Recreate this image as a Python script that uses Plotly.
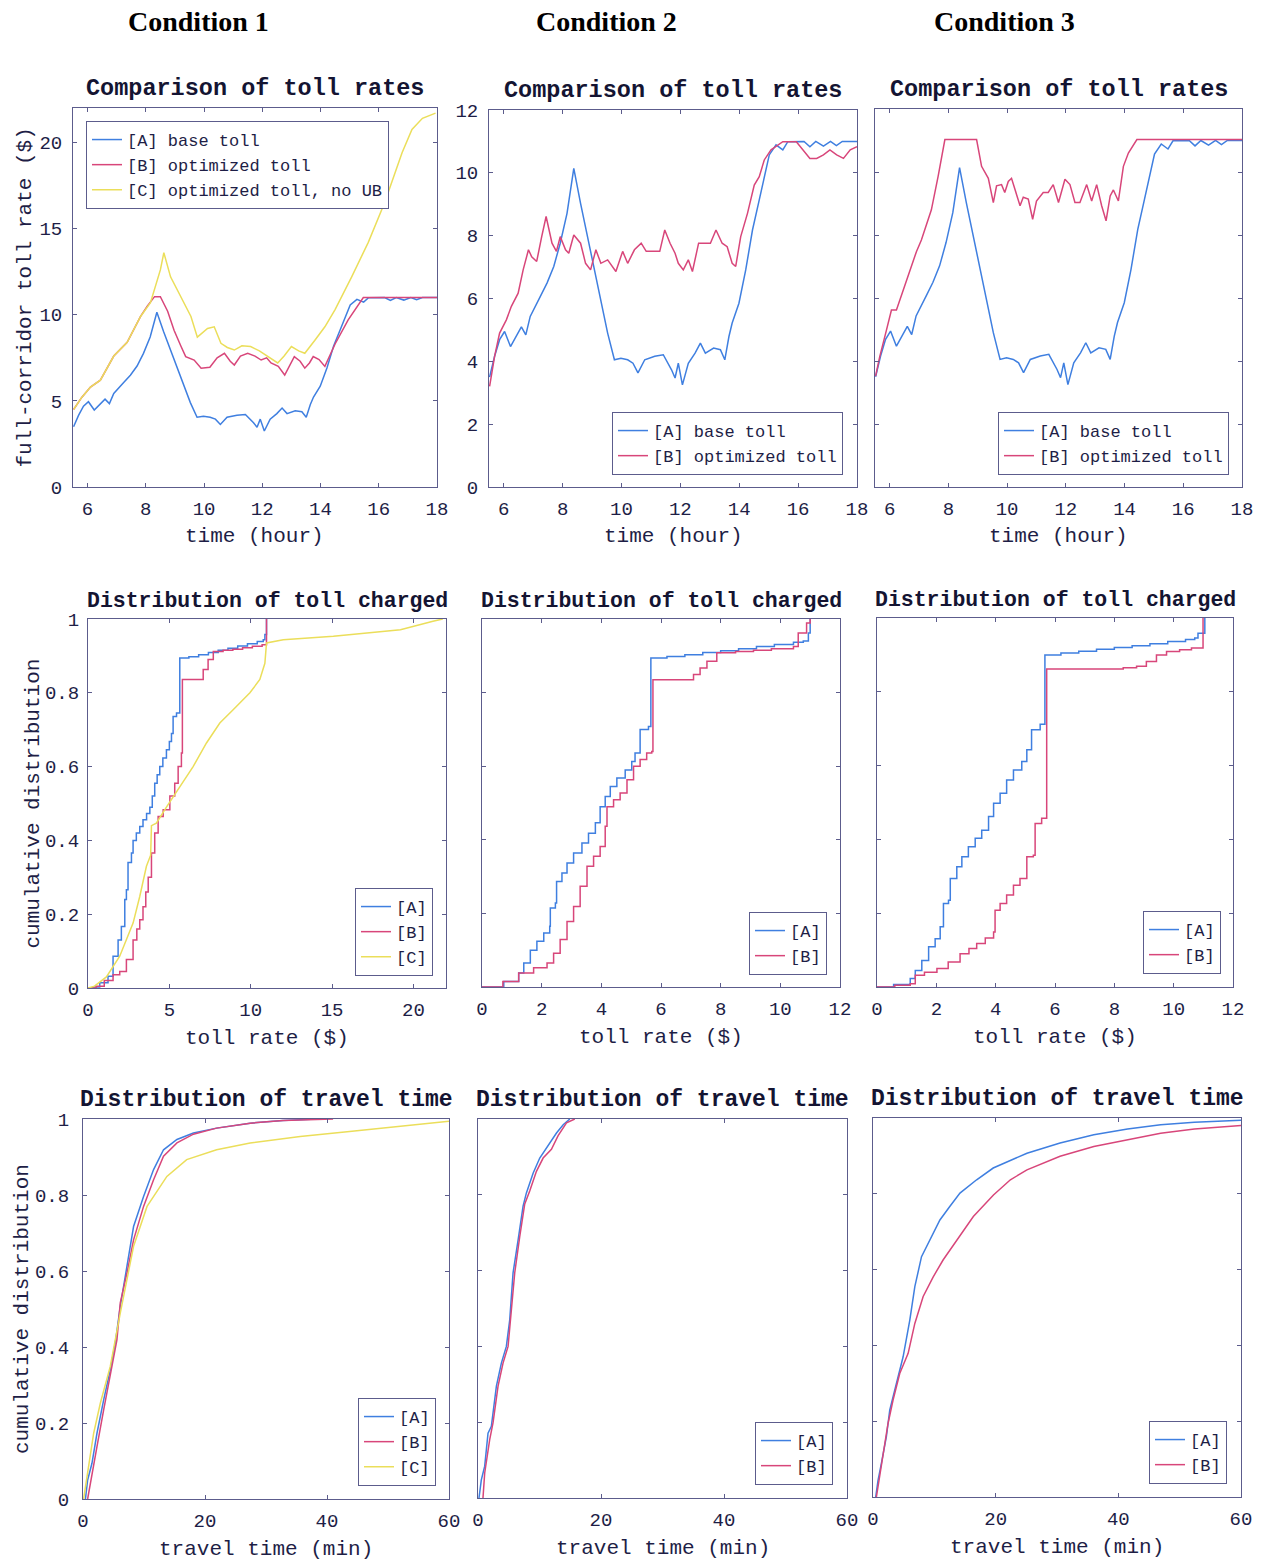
import plotly.graph_objects as go

W, H = 1262, 1561

MONO = "Liberation Mono"
SERIF = "Liberation Serif"
TXT = "#1e1e46"
FRAME = "#5c5c8c"
BLUE = "#3f7fe0"
RED = "#d8467a"
YELLOW = "#ebde5a"

# ---------------- toll rates over the day (hour, $) ----------------
# base toll [A] is shared by all three conditions
TIME_A = [5.52, 5.69, 5.86, 6.03, 6.23, 6.43, 6.6, 6.75, 6.9, 7.24, 7.47, 7.7, 7.92, 8.15,
          8.38, 8.61, 8.84, 9.07, 9.3, 9.53, 9.76, 9.98, 10.21, 10.39, 10.56, 10.79, 11.13,
          11.42, 11.7, 11.82, 11.93, 12.07, 12.27, 12.5, 12.68, 12.85, 13.13, 13.36, 13.51,
          13.65, 13.76, 13.99, 14.22, 14.45, 14.68, 14.85, 15.02, 15.25, 15.48, 15.65, 16.0,
          16.2, 16.4, 16.6, 16.86, 17.1, 17.3, 17.5, 18.0]
TOLL_A = [3.5, 4.16, 4.69, 4.95, 4.47, 4.79, 5.1, 4.84, 5.43, 6.06, 6.49, 7.02, 7.76, 8.71,
          10.14, 9.03, 7.97, 6.91, 5.85, 4.9, 4.05, 4.1, 4.05, 3.94, 3.63, 4.05, 4.16,
          4.21, 3.73, 3.47, 3.94, 3.25, 3.94, 4.26, 4.58, 4.26, 4.42, 4.37, 4.05,
          4.79, 5.22, 5.85, 6.91, 8.18, 9.14, 9.83, 10.57, 10.89, 10.73, 10.99, 11.0,
          11.0, 10.83, 11.0, 10.85, 11.0, 10.87, 11.0, 11.0]

# condition 1: optimized toll [B] and optimized toll without upper bound [C]
TIME_B1 = [5.52, 5.8, 6.1, 6.44, 6.9, 7.36, 7.82, 8.05, 8.3, 8.5, 8.75, 8.97, 9.2, 9.37, 9.66,
           9.9, 10.2, 10.45, 10.7, 10.9, 11.04, 11.25, 11.5, 11.75, 11.96, 12.15, 12.3, 12.55,
           12.77, 12.95, 13.1, 13.3, 13.46, 13.62, 13.75, 13.95, 14.15, 14.5, 14.95, 15.47,
           16.0, 16.5, 17.0, 17.5, 18.0]
TOLL_B1 = [4.5, 5.2, 5.8, 6.2, 7.6, 8.4, 9.9, 10.5, 11.05, 11.05, 10.2, 9.1, 8.2, 7.57, 7.37,
           6.9, 6.95, 7.5, 7.76, 7.3, 7.08, 7.6, 7.76, 7.6, 7.37, 7.5, 7.2, 7.0,
           6.5, 7.1, 7.57, 7.3, 6.9, 7.2, 7.57, 7.4, 7.0, 8.3, 9.7, 11.0,
           11.0, 11.0, 11.0, 11.0, 11.0]
TIME_C1 = [5.52, 5.8, 6.1, 6.44, 6.9, 7.36, 7.82, 8.16, 8.5, 8.62, 8.85, 9.2, 9.55, 9.77, 10.12,
           10.35, 10.58, 10.8, 11.04, 11.3, 11.6, 11.9, 12.2, 12.53, 12.75, 13.0, 13.25, 13.46,
           13.8, 14.15, 14.5, 15.07, 15.64, 16.2, 16.8, 17.14, 17.5, 17.95]
TOLL_C1 = [4.5, 5.2, 5.8, 6.2, 7.6, 8.4, 9.9, 10.7, 12.6, 13.6, 12.2, 11.05, 9.9, 8.7, 9.2,
           9.3, 8.34, 8.1, 7.95, 8.2, 8.15, 7.9, 7.57, 7.2, 7.6, 8.15, 7.9, 7.76,
           8.5, 9.3, 10.3, 12.2, 14.2, 16.5, 19.4, 20.76, 21.4, 21.7]

# condition 2: optimized toll [B]
TIME_B2 = [5.52, 5.69, 5.86, 6.09, 6.26, 6.49, 6.66, 6.84, 6.95, 7.12, 7.29, 7.44, 7.64, 7.79,
           7.92, 8.1, 8.21, 8.38, 8.61, 8.78, 8.95, 9.13, 9.3, 9.53, 9.81, 10.04, 10.21, 10.44,
           10.67, 10.84, 11.07, 11.3, 11.47, 11.65, 11.82, 11.93, 12.1, 12.27, 12.41, 12.62,
           12.85, 13.02, 13.21, 13.42, 13.59, 13.76, 13.88, 14.05, 14.28, 14.51, 14.68, 14.85,
           15.08, 15.25, 15.48, 15.94, 16.17, 16.4, 16.63, 16.86, 17.08, 17.31, 17.54, 17.77, 18.0]
TOLL_B2 = [3.2, 4.16, 4.9, 5.32, 5.75, 6.17, 6.91, 7.55, 7.33, 7.18, 7.97, 8.61, 7.76, 7.5,
           7.97, 7.55, 7.44, 8.02, 7.76, 7.12, 6.91, 7.55, 7.12, 7.23, 6.86, 7.5, 7.12, 7.55,
           7.76, 7.5, 7.5, 7.5, 8.18, 7.76, 7.44, 7.12, 6.91, 7.23, 6.86, 7.76,
           7.76, 7.76, 8.18, 7.76, 7.65, 7.12, 7.02, 7.97, 8.71, 9.61, 9.88, 10.41,
           10.73, 10.83, 10.99, 10.99, 10.73, 10.46, 10.46, 10.57, 10.73, 10.57, 10.46, 10.73, 10.83]

# condition 3: optimized toll [B]
TIME_B3 = [5.52, 5.66, 5.89, 6.06, 6.23, 6.46, 6.68, 6.91, 7.08, 7.25, 7.42, 7.65, 7.88, 8.96,
           9.13, 9.36, 9.53, 9.64, 9.81, 9.92, 10.04, 10.15, 10.32, 10.44, 10.55, 10.72, 10.87,
           11.0, 11.23, 11.4, 11.57, 11.75, 11.97, 12.14, 12.31, 12.48, 12.71, 12.88, 13.05,
           13.22, 13.37, 13.51, 13.62, 13.79, 13.96, 14.13, 14.42, 18.0]
TOLL_B3 = [3.52, 4.13, 4.98, 5.62, 5.62, 6.25, 6.78, 7.47, 7.84, 8.32, 8.8, 9.86, 11.03, 11.03,
           10.18, 9.8, 9.03, 9.56, 9.6, 9.35, 9.7, 9.8, 9.24, 8.93, 9.2, 9.14, 8.5,
           9.08, 9.35, 9.35, 9.6, 9.03, 9.77, 9.6, 9.03, 9.03, 9.6, 9.08, 9.6,
           8.93, 8.45, 9.24, 9.43, 9.08, 10.18, 10.6, 11.03, 11.03]

# ---------------- cumulative distribution of toll charged ($) ----------------
CH1_A_X = [0, 0.3, 0.72, 1.23, 1.54, 1.85, 2.05, 2.26, 2.36, 2.46, 2.67, 2.77, 2.97, 3.18, 3.38,
           3.6, 3.8, 3.95, 4.1, 4.25, 4.41, 4.6, 4.82, 5.0, 5.13, 5.23, 5.44, 5.64, 6.2, 6.8,
           7.4, 8.0, 8.6, 9.2, 9.8, 10.4, 10.77, 10.87, 10.97]
CH1_A_Y = [0, 0.003, 0.014, 0.032, 0.086, 0.13, 0.167, 0.24, 0.266, 0.34, 0.366, 0.40, 0.42,
           0.438, 0.456, 0.473, 0.49, 0.52, 0.555, 0.578, 0.60, 0.623, 0.646, 0.668, 0.69,
           0.736, 0.745, 0.894, 0.898, 0.903, 0.909, 0.915, 0.921, 0.927, 0.933, 0.939,
           0.944, 0.958, 1.0]
CH1_B_X = [0, 0.5, 1.0, 1.54, 1.95, 2.36, 2.77, 3.0, 3.18, 3.38, 3.55, 3.7, 3.9, 4.1, 4.31,
           4.62, 5.03, 5.33, 5.54, 5.74, 5.8, 6.87, 7.08, 7.38, 7.7, 8.3, 8.9, 9.5, 10.1, 10.7,
           10.97]
CH1_B_Y = [0, 0.005, 0.02, 0.036, 0.045, 0.077, 0.13, 0.16, 0.185, 0.22, 0.26, 0.30, 0.366,
           0.42, 0.465, 0.483, 0.52, 0.555, 0.60, 0.637, 0.836, 0.836, 0.863, 0.89, 0.912,
           0.915, 0.918, 0.922, 0.926, 0.93, 1.0]
CH1_C_X = [0, 0.4, 1.13, 1.95, 2.77, 3.18, 3.59, 3.85, 3.9, 4.2, 4.82, 5.64, 6.46, 7.28, 8.1,
           8.92, 9.95, 10.56, 10.87, 10.97, 12.0, 15.08, 17.1, 19.2, 21.2, 21.8]
CH1_C_Y = [0, 0.005, 0.03, 0.086, 0.176, 0.248, 0.33, 0.36, 0.44, 0.447, 0.49, 0.546, 0.60,
           0.664, 0.718, 0.754, 0.80, 0.836, 0.88, 0.935, 0.944, 0.953, 0.962, 0.971, 0.994, 1.0]

CH2_A_X = [0, 0.17, 0.73, 1.23, 1.4, 1.62, 1.84, 2.07, 2.27, 2.29, 2.46, 2.5, 2.68, 2.85, 3.07,
           3.35, 3.57, 3.8, 3.96, 4.13, 4.3, 4.52, 4.8, 5.02, 5.13, 5.3, 5.58, 5.66, 6.2, 6.8,
           7.4, 8.0, 8.6, 9.2, 9.8, 10.44, 10.77, 10.94, 11.0]
CH2_A_Y = [0, 0.0, 0.015, 0.038, 0.065, 0.10, 0.124, 0.147, 0.165, 0.215, 0.228, 0.287, 0.31,
           0.337, 0.364, 0.391, 0.418, 0.446, 0.49, 0.518, 0.545, 0.568, 0.59, 0.613, 0.636,
           0.70, 0.708, 0.894, 0.898, 0.903, 0.909, 0.914, 0.919, 0.925, 0.931, 0.937, 0.94,
           0.962, 1.0]
CH2_B_X = [0, 0.17, 0.7, 1.23, 1.73, 2.18, 2.4, 2.62, 2.85, 3.07, 3.29, 3.52, 3.74, 3.96, 4.13,
           4.19, 4.41, 4.63, 4.86, 5.08, 5.3, 5.52, 5.69, 5.73, 6.75, 7.09, 7.31, 7.54, 7.87,
           8.5, 9.1, 9.7, 10.44, 10.6, 10.88, 11.0]
CH2_B_Y = [0, 0.0, 0.015, 0.038, 0.052, 0.065, 0.092, 0.129, 0.178, 0.219, 0.274, 0.328, 0.355,
           0.382, 0.437, 0.49, 0.509, 0.527, 0.563, 0.60, 0.618, 0.636, 0.64, 0.835, 0.835,
           0.849, 0.867, 0.885, 0.908, 0.912, 0.915, 0.919, 0.925, 0.962, 0.989, 1.0]

CH3_A_X = [0, 0.11, 0.56, 1.12, 1.29, 1.51, 1.74, 1.96, 2.13, 2.24, 2.41, 2.47, 2.69, 2.86, 3.08,
           3.31, 3.53, 3.76, 3.93, 4.15, 4.37, 4.6, 4.88, 5.05, 5.21, 5.5, 5.66, 6.2, 6.8, 7.4,
           8.0, 8.6, 9.2, 9.8, 10.4, 10.71, 10.82, 11.05]
CH3_A_Y = [0, 0.0, 0.007, 0.023, 0.045, 0.072, 0.109, 0.131, 0.163, 0.226, 0.235, 0.294, 0.326,
           0.353, 0.38, 0.403, 0.425, 0.462, 0.498, 0.525, 0.561, 0.588, 0.611, 0.643, 0.697,
           0.712, 0.90, 0.905, 0.91, 0.915, 0.92, 0.925, 0.93, 0.936, 0.942, 0.946, 0.959, 1.0]
CH3_B_X = [0, 0.11, 0.6, 1.12, 1.29, 1.6, 2.02, 2.4, 2.8, 3.1, 3.36, 3.65, 3.93, 3.98, 4.15,
           4.37, 4.6, 4.82, 5.05, 5.27, 5.33, 5.55, 5.72, 8.3, 8.75, 9.08, 9.42, 9.76, 10.2,
           10.6, 10.99]
CH3_B_Y = [0, 0.0, 0.005, 0.009, 0.032, 0.04, 0.05, 0.068, 0.09, 0.104, 0.118, 0.133, 0.149,
           0.208, 0.226, 0.249, 0.276, 0.294, 0.353, 0.357, 0.443, 0.457, 0.862, 0.865, 0.869,
           0.882, 0.90, 0.909, 0.914, 0.919, 1.0]

# ---------------- cumulative distribution of travel time (min) ----------------
TT1_A_X = [0.4, 0.76, 1.47, 2.29, 3.38, 4.47, 5.29, 6.11, 7.2, 8.29, 9.93, 11.57, 13.2, 15.4,
           18.1, 21.9, 27.4, 32.8, 38.3]
TT1_A_Y = [0, 0.05, 0.094, 0.173, 0.26, 0.34, 0.41, 0.507, 0.612, 0.717, 0.796, 0.867, 0.919,
           0.946, 0.963, 0.976, 0.989, 0.996, 1.0]
TT1_B_X = [0.76, 1.47, 2.29, 3.38, 4.75, 5.56, 6.11, 7.2, 8.29, 9.93, 11.57, 13.2, 15.4, 18.1,
           21.9, 27.4, 32.8, 41.0]
TT1_B_Y = [0, 0.068, 0.138, 0.234, 0.349, 0.419, 0.516, 0.594, 0.682, 0.77, 0.84, 0.902, 0.937,
           0.96, 0.976, 0.989, 0.996, 1.0]
TT1_C_X = [0.1, 0.4, 0.93, 1.75, 2.84, 4.47, 6.11, 8.29, 10.5, 13.75, 17.0, 21.9, 27.4, 35.6,
           43.7, 51.9, 60.0]
TT1_C_Y = [0, 0.03, 0.085, 0.173, 0.252, 0.349, 0.489, 0.665, 0.77, 0.849, 0.893, 0.919, 0.937,
           0.954, 0.967, 0.98, 0.994]

TT2_A_X = [0.16, 0.54, 1.09, 1.63, 2.17, 2.99, 3.8, 4.61, 5.16, 5.7, 6.51, 7.33, 7.87, 8.96,
           10.04, 11.67, 12.76, 13.85, 14.93]
TT2_A_Y = [0, 0.048, 0.084, 0.171, 0.189, 0.295, 0.356, 0.4, 0.47, 0.594, 0.68, 0.77, 0.805,
           0.857, 0.897, 0.937, 0.963, 0.985, 1.0]
TT2_B_X = [0.81, 1.09, 1.9, 2.44, 3.26, 4.07, 4.89, 5.43, 5.97, 6.79, 7.6, 8.41, 9.5, 10.59,
           11.94, 13.03, 14.39, 15.74]
TT2_B_Y = [0, 0.066, 0.154, 0.198, 0.295, 0.356, 0.4, 0.488, 0.594, 0.69, 0.776, 0.81, 0.862,
           0.897, 0.92, 0.956, 0.99, 1.0]

TT3_A_X = [0.44, 0.82, 1.36, 2.18, 2.73, 3.82, 4.91, 6.0, 6.82, 7.91, 9.27, 10.91, 12.55, 14.18,
           16.9, 19.6, 25.1, 30.5, 36.0, 41.5, 46.9, 52.4, 60.0]
TT3_A_Y = [0, 0.044, 0.088, 0.159, 0.229, 0.3, 0.37, 0.467, 0.555, 0.634, 0.678, 0.731, 0.767,
           0.802, 0.837, 0.868, 0.907, 0.934, 0.956, 0.971, 0.982, 0.989, 0.994]
TT3_B_X = [0.55, 1.09, 1.91, 2.45, 3.27, 4.36, 5.73, 6.82, 8.18, 9.82, 11.45, 13.64, 16.36,
           19.64, 22.4, 25.1, 30.5, 36.0, 41.5, 46.9, 52.4, 60.0]
TT3_B_Y = [0, 0.053, 0.132, 0.194, 0.256, 0.326, 0.379, 0.458, 0.529, 0.581, 0.626, 0.678, 0.74,
           0.797, 0.837, 0.863, 0.899, 0.925, 0.943, 0.96, 0.971, 0.98]

CONDITIONS = ["Condition 1", "Condition 2", "Condition 3"]
CONDITION_X = [199, 606, 1004]

# panel boxes in pixels: left, top, right, bottom
BOXES = [
    (73, 108, 437, 487), (489, 110, 857, 487), (875, 109, 1242, 487),
    (88, 619, 446, 988), (482, 619, 840, 987), (877, 618, 1233, 987),
    (83, 1119, 449, 1499), (478, 1119, 847, 1498), (873, 1118, 1241, 1497),
]
XRANGES = [[5.5, 18]] * 3 + [[0, 22], [0, 12], [0, 12]] + [[0, 60]] * 3
YRANGES = [[0, 22], [0, 12], [0, 12]] + [[0, 1]] * 6
XTICKS = [list(range(6, 19, 2))] * 3 + [[0, 5, 10, 15, 20], list(range(0, 13, 2)),
                                        list(range(0, 13, 2))] + [[0, 20, 40, 60]] * 3
YTICKS = [[0, 5, 10, 15, 20], list(range(0, 13, 2)), list(range(0, 13, 2))] + \
         [[0, 0.2, 0.4, 0.6, 0.8, 1]] * 6
SHOW_Y = [True, True, False, True, False, False, True, False, False]
TITLES = ["Comparison of toll rates"] * 3 + ["Distribution of toll charged"] * 3 + \
         ["Distribution of travel time"] * 3
# the longest row of titles is set a little smaller so it clears the "1" tick label
TITLE_SIZE = [23.5] * 3 + [21.5] * 3 + [23] * 3
XTITLES = ["time (hour)"] * 3 + ["toll rate ($)"] * 3 + ["travel time (min)"] * 3
YTITLES = {0: ("full-corridor toll rate ($)", 48), 3: ("cumulative distribution", 55),
           6: ("cumulative distribution", 61)}
YSTANDOFF = [6, 6, 6, 4, 4, 4, 9, 9, 9]


def fx(px):
    return px / W


def fy(py):
    return 1 - py / H


fig = go.Figure()


def add(panel, x, y, name, color, shape="linear", width=1.5):
    sfx = "" if panel == 0 else str(panel + 1)
    fig.add_trace(go.Scatter(
        x=x, y=y, name=name, mode="lines",
        line=dict(color=color, width=width, shape=shape),
        xaxis="x" + sfx, yaxis="y" + sfx, legend="legend" + sfx,
        hoverinfo="skip"))


# row 1: toll rates
add(0, TIME_A, TOLL_A, "[A] base toll", BLUE)
add(0, TIME_B1, TOLL_B1, "[B] optimized toll", RED)
add(0, TIME_C1, TOLL_C1, "[C] optimized toll, no UB", YELLOW)
add(1, TIME_A, TOLL_A, "[A] base toll", BLUE)
add(1, TIME_B2, TOLL_B2, "[B] optimized toll", RED)
add(2, TIME_A, TOLL_A, "[A] base toll", BLUE)
add(2, TIME_B3, TOLL_B3, "[B] optimized toll", RED)

# row 2: toll charged (empirical CDF steps)
add(3, CH1_A_X, CH1_A_Y, "[A]", BLUE, "hv")
add(3, CH1_B_X, CH1_B_Y, "[B]", RED, "hv")
add(3, CH1_C_X, CH1_C_Y, "[C]", YELLOW)
add(4, CH2_A_X, CH2_A_Y, "[A]", BLUE, "hv")
add(4, CH2_B_X, CH2_B_Y, "[B]", RED, "hv")
add(5, CH3_A_X, CH3_A_Y, "[A]", BLUE, "hv")
add(5, CH3_B_X, CH3_B_Y, "[B]", RED, "hv")

# row 3: travel time
add(6, TT1_A_X, TT1_A_Y, "[A]", BLUE)
add(6, TT1_B_X, TT1_B_Y, "[B]", RED)
add(6, TT1_C_X, TT1_C_Y, "[C]", YELLOW)
add(7, TT2_A_X, TT2_A_Y, "[A]", BLUE)
add(7, TT2_B_X, TT2_B_Y, "[B]", RED)
add(8, TT3_A_X, TT3_A_Y, "[A]", BLUE)
add(8, TT3_B_X, TT3_B_Y, "[B]", RED)

layout = dict(
    width=W, height=H, margin=dict(l=0, r=0, t=0, b=0, autoexpand=False),
    paper_bgcolor="white", plot_bgcolor="white",
    font=dict(family=MONO, color=TXT),
    annotations=[],
)

tick_font = dict(family=MONO, size=19, color=TXT)
for i, (l, t, r, b) in enumerate(BOXES):
    sfx = "" if i == 0 else str(i + 1)
    common = dict(showline=True, linecolor=FRAME, linewidth=1, mirror="ticks",
                  ticks="inside", ticklen=4, tickcolor=FRAME, showgrid=False,
                  zeroline=False, tickfont=tick_font, fixedrange=True, automargin=False)
    layout["xaxis" + sfx] = dict(
        domain=[fx(l), fx(r)], range=XRANGES[i], tickvals=XTICKS[i],
        anchor="y" + sfx, ticklabelstandoff=4, **common)
    layout["yaxis" + sfx] = dict(
        domain=[fy(b), fy(t)], range=YRANGES[i], tickvals=YTICKS[i],
        anchor="x" + sfx, showticklabels=SHOW_Y[i], ticklabelstandoff=YSTANDOFF[i],
        **common)

    xr, yr = "x" + sfx + " domain", "y" + sfx + " domain"
    layout["annotations"].append(dict(
        text="<b>" + TITLES[i] + "</b>", xref=xr, yref=yr, x=0.5, y=1,
        xanchor="center", yanchor="bottom", yshift=4, showarrow=False,
        font=dict(family=MONO, size=TITLE_SIZE[i], color="#141432")))
    layout["annotations"].append(dict(
        text=XTITLES[i], xref=xr, yref=yr, x=0.5, y=0, xanchor="center",
        yanchor="middle", yshift=-50, showarrow=False,
        font=dict(family=MONO, size=21, color=TXT)))
    if i in YTITLES:
        txt, off = YTITLES[i]
        layout["annotations"].append(dict(
            text=txt, xref=xr, yref=yr, x=0, y=0.5, xanchor="center",
            yanchor="middle", xshift=-off, textangle=-90, showarrow=False,
            font=dict(family=MONO, size=21, color=TXT)))

for name, cx in zip(CONDITIONS, CONDITION_X):
    layout["annotations"].append(dict(
        text="<b>" + name + "</b>", xref="paper", yref="paper", x=fx(cx),
        y=fy(21), xanchor="center", yanchor="middle", showarrow=False,
        font=dict(family=SERIF, size=28, color="black")))

# legend anchors (px): top-left for the first panel, bottom-right for the rest
LEGEND_POS = [
    (86, 121, "left", "top"), (843, 475, "right", "bottom"), (1229, 475, "right", "bottom"),
    (433, 976, "right", "bottom"), (827, 975, "right", "bottom"), (1221, 974, "right", "bottom"),
    (436, 1486, "right", "bottom"), (833, 1485, "right", "bottom"), (1227, 1484, "right", "bottom"),
]
for i, (px, py, xa, ya) in enumerate(LEGEND_POS):
    key = "legend" if i == 0 else "legend" + str(i + 1)
    layout[key] = dict(
        x=fx(px), y=fy(py), xref="paper", yref="paper", xanchor=xa, yanchor=ya,
        bgcolor="white", bordercolor=FRAME, borderwidth=1,
        font=dict(family=MONO, size=17, color=TXT), tracegroupgap=0,
        itemclick=False, itemdoubleclick=False)

fig.update_layout(**layout)
fig.write_html("out.html")
